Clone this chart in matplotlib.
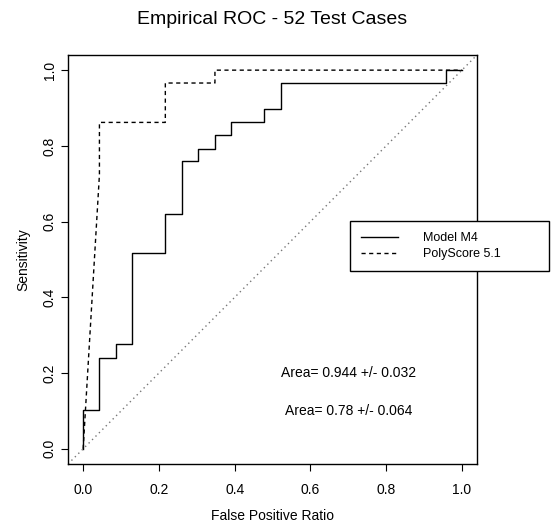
import matplotlib
matplotlib.use("Agg")
import matplotlib.pyplot as plt

plt.rcParams['font.family'] = ['Liberation Sans', 'DejaVu Sans']

# ROC curve vertices (23 negatives, 29 positives)
m4_fpr = [0, 0, .043, .043, .087, .087, .130, .130, .217, .217, .261, .261,
          .304, .304, .348, .348, .391, .391, .478, .478, .522, .522, .957, .957, 1.0]
m4_tpr = [0, .103, .103, .241, .241, .276, .276, .517, .517, .621, .621, .759,
          .759, .793, .793, .828, .828, .862, .862, .897, .897, .966, .966, 1.0, 1.0]

ps_fpr = [0, .043, .043, .217, .217, .348, .348, 1.0]
ps_tpr = [0, .724, .862, .862, .966, .966, 1.0, 1.0]

series_names = ["Model M4", "PolyScore 5.1"]
area_texts = ["Area= 0.944 +/- 0.032", "Area= 0.78 +/- 0.064"]
area_y = [0.2, 0.1]
ticks = [0.0, 0.2, 0.4, 0.6, 0.8, 1.0]

W, H = 551, 526
fig = plt.figure(figsize=(W / 100, H / 100), dpi=100)
ax = fig.add_axes([68 / W, (H - 464) / H, (477 - 68) / W, (464 - 55) / H])

ax.plot(m4_fpr, m4_tpr, color="black", lw=1.0, label=series_names[0])
ax.plot(ps_fpr, ps_tpr, color="black", lw=1.0, linestyle=(0, (3, 2.5)),
        label=series_names[1])
# chance line
ax.axline((0, 0), slope=1, color="#777777", lw=1.0, linestyle=(0, (1, 2.5)))

for txt, yy in zip(area_texts, area_y):
    ax.text(0.7, yy, txt, ha="center", va="center", fontsize=10)

ax.set_xlim(-0.04, 1.04)
ax.set_ylim(-0.04, 1.04)
ax.set_xticks(ticks)
ax.set_yticks(ticks)
ax.set_xticklabels([f"{t:.1f}" for t in ticks])
ax.set_yticklabels([f"{t:.1f}" for t in ticks])
ax.tick_params(direction="out", length=5, width=0.8, labelsize=10, color="black")
ax.tick_params(axis="x", pad=9)
ax.tick_params(axis="y", pad=3, labelrotation=90)
for lab in ax.get_yticklabels():
    lab.set_va("center")
for sp in ax.spines.values():
    sp.set_linewidth(1.0)

ax.set_xlabel("False Positive Ratio", fontsize=10, labelpad=8)
ax.set_ylabel("Sensitivity", fontsize=10, labelpad=9)
ax.set_title("Empirical ROC - 52 Test Cases", fontsize=14, pad=22)

leg = ax.legend(loc="upper left", bbox_to_anchor=(0.6895, 0.474, 0.4866, 0.120),
                mode="expand", borderaxespad=0, fontsize=9, fancybox=False,
                edgecolor="black", framealpha=1, handlelength=2.9,
                handletextpad=2.0, borderpad=0.9, labelspacing=0.3)
leg.get_frame().set_linewidth(1.0)
leg.set_clip_on(False)

fig.savefig("out.png", dpi=100)
